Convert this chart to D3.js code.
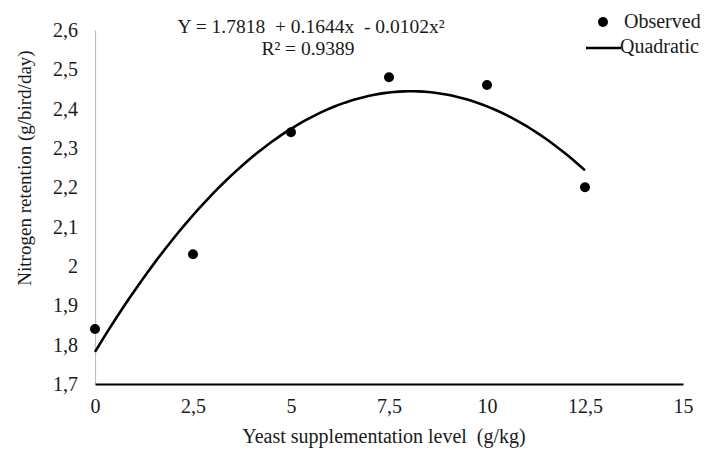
<!DOCTYPE html>
<html>
<head>
<meta charset="utf-8">
<script src="https://cdn.jsdelivr.net/npm/d3@7"></script>
<style>
  html, body { margin: 0; padding: 0; background: #fff; }
  svg text { font-family: "Liberation Serif", "Times New Roman", serif; fill: #1a1a1a; white-space: pre; }
</style>
</head>
<body>
<svg id="chart" width="705" height="453"></svg>
<script>
// Yeast supplementation level (g/kg) and observed nitrogen retention (g/bird/day)
const levels = [0, 2.5, 5, 7.5, 10, 12.5];
const observed = [1.84, 2.03, 2.34, 2.48, 2.46, 2.20];
// Quadratic fit coefficients: Y = b0 + b1*x + b2*x^2
const coef = [1.7818, 0.1644, -0.0102];
const xTicks = [0, 2.5, 5, 7.5, 10, 12.5, 15];
const yTicks = [1.7, 1.8, 1.9, 2.0, 2.1, 2.2, 2.3, 2.4, 2.5, 2.6];

const svg = d3.select("#chart");
const x = d3.scaleLinear().domain([0, 15]).range([95, 683]);
const y = d3.scaleLinear().domain([1.7, 2.6]).range([384, 30]);
const fmt = d => String(+d.toFixed(1)).replace(".", ",");

// y axis: thin gray line, labels only
const yAxis = svg.append("g").attr("transform", "translate(95,0)")
  .call(d3.axisLeft(y).tickValues(yTicks).tickFormat(fmt).tickSize(0).tickPadding(17));
yAxis.select(".domain").attr("stroke", "#bfbfbf").attr("stroke-width", 1.2);
yAxis.selectAll("text").style("font-size", "20px").attr("font-family", null).attr("fill", "#1a1a1a");

// x axis: black baseline, labels only
const xAxis = svg.append("g").attr("transform", "translate(0,384)")
  .call(d3.axisBottom(x).tickValues(xTicks).tickFormat(fmt).tickSize(0).tickPadding(15));
xAxis.select(".domain").attr("stroke", "#000").attr("stroke-width", 2);
xAxis.selectAll("text").style("font-size", "20px").attr("font-family", null).attr("fill", "#1a1a1a");

// fitted quadratic curve over the observed range
const fit = v => coef[0] + coef[1] * v + coef[2] * v * v;
const curveX = d3.range(0, 12.5001, 0.125);
svg.append("path")
  .datum(curveX)
  .attr("fill", "none")
  .attr("stroke", "#000")
  .attr("stroke-width", 2.6)
  .attr("d", d3.line().x(d => x(d)).y(d => y(fit(d))));

// observed points
svg.append("g").selectAll("circle")
  .data(levels.map((l, i) => [l, observed[i]]))
  .join("circle")
  .attr("cx", d => x(d[0]))
  .attr("cy", d => y(d[1]))
  .attr("r", 5)
  .attr("fill", "#000");

// equation annotation
svg.append("text").attr("x", 311).attr("y", 33).attr("text-anchor", "middle")
  .style("font-size", "19.5px").text("Y = 1.7818  + 0.1644x  - 0.0102x\u00B2");
svg.append("text").attr("x", 308).attr("y", 55).attr("text-anchor", "middle")
  .style("font-size", "19.5px").text("R\u00B2 = 0.9389");

// legend
svg.append("circle").attr("cx", 603).attr("cy", 22).attr("r", 5).attr("fill", "#000");
svg.append("text").attr("x", 624).attr("y", 28).style("font-size", "20px").text("Observed");
svg.append("line").attr("x1", 586).attr("x2", 621).attr("y1", 48).attr("y2", 48)
  .attr("stroke", "#000").attr("stroke-width", 2.6);
svg.append("text").attr("x", 620).attr("y", 53).style("font-size", "20px").text("Quadratic");

// axis titles
svg.append("text").attr("x", 384).attr("y", 443).attr("text-anchor", "middle")
  .style("font-size", "20px").text("Yeast supplementation level  (g/kg)");
svg.append("text").attr("transform", "translate(31,168) rotate(-90)").attr("text-anchor", "middle")
  .style("font-size", "19px").text("Nitrogen retention (g/bird/day)");
</script>
</body>
</html>
